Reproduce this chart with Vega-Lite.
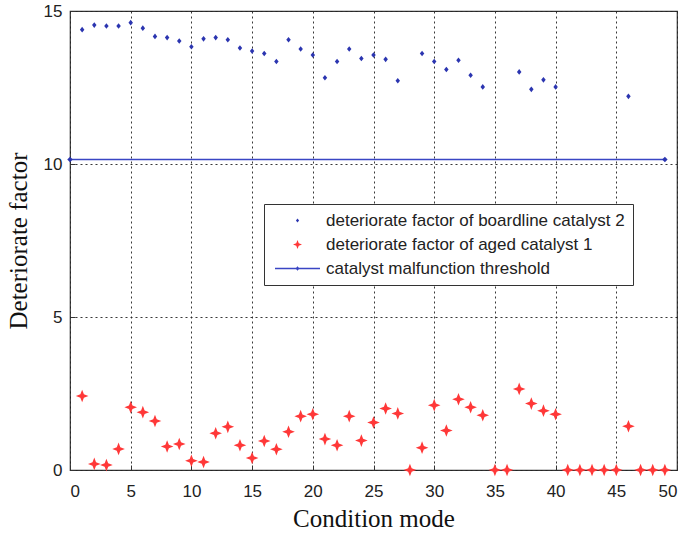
{
  "$schema": "https://vega.github.io/schema/vega-lite/v6.json",
  "width": 607,
  "height": 459,
  "autosize": "none",
  "padding": {"left": 70, "top": 11, "right": 11, "bottom": 66},
  "background": "white",
  "config": {
    "view": {"stroke": "#333", "strokeWidth": 1.2},
    "axis": {
      "domain": false,
      "gridColor": "#222",
      "gridDash": [2, 3],
      "gridWidth": 1,
      "gridOpacity": 0.9,
      "tickColor": "#333",
      "tickSize": -5,
      "labelFont": "Liberation Sans",
      "labelFontSize": 17,
      "labelColor": "#222",
      "titleFont": "Liberation Serif",
      "titleFontSize": 25,
      "titleFontWeight": "normal",
      "titleColor": "#111"
    },
    "legend": {
      "labelFont": "Liberation Sans",
      "labelFontSize": 17,
      "labelColor": "#222",
      "labelLimit": 0
    }
  },
  "datasets": {
    "pts": [
      {"mode": 1, "value": 14.39, "series": "deteriorate factor of boardline catalyst 2"},
      {"mode": 2, "value": 14.54, "series": "deteriorate factor of boardline catalyst 2"},
      {"mode": 3, "value": 14.51, "series": "deteriorate factor of boardline catalyst 2"},
      {"mode": 4, "value": 14.51, "series": "deteriorate factor of boardline catalyst 2"},
      {"mode": 5, "value": 14.62, "series": "deteriorate factor of boardline catalyst 2"},
      {"mode": 6, "value": 14.44, "series": "deteriorate factor of boardline catalyst 2"},
      {"mode": 7, "value": 14.17, "series": "deteriorate factor of boardline catalyst 2"},
      {"mode": 8, "value": 14.13, "series": "deteriorate factor of boardline catalyst 2"},
      {"mode": 9, "value": 14.02, "series": "deteriorate factor of boardline catalyst 2"},
      {"mode": 10, "value": 13.83, "series": "deteriorate factor of boardline catalyst 2"},
      {"mode": 11, "value": 14.09, "series": "deteriorate factor of boardline catalyst 2"},
      {"mode": 12, "value": 14.13, "series": "deteriorate factor of boardline catalyst 2"},
      {"mode": 13, "value": 14.06, "series": "deteriorate factor of boardline catalyst 2"},
      {"mode": 14, "value": 13.79, "series": "deteriorate factor of boardline catalyst 2"},
      {"mode": 15, "value": 13.69, "series": "deteriorate factor of boardline catalyst 2"},
      {"mode": 16, "value": 13.61, "series": "deteriorate factor of boardline catalyst 2"},
      {"mode": 17, "value": 13.35, "series": "deteriorate factor of boardline catalyst 2"},
      {"mode": 18, "value": 14.06, "series": "deteriorate factor of boardline catalyst 2"},
      {"mode": 19, "value": 13.76, "series": "deteriorate factor of boardline catalyst 2"},
      {"mode": 20, "value": 13.56, "series": "deteriorate factor of boardline catalyst 2"},
      {"mode": 21, "value": 12.82, "series": "deteriorate factor of boardline catalyst 2"},
      {"mode": 22, "value": 13.35, "series": "deteriorate factor of boardline catalyst 2"},
      {"mode": 23, "value": 13.76, "series": "deteriorate factor of boardline catalyst 2"},
      {"mode": 24, "value": 13.45, "series": "deteriorate factor of boardline catalyst 2"},
      {"mode": 25, "value": 13.56, "series": "deteriorate factor of boardline catalyst 2"},
      {"mode": 26, "value": 13.42, "series": "deteriorate factor of boardline catalyst 2"},
      {"mode": 27, "value": 12.72, "series": "deteriorate factor of boardline catalyst 2"},
      {"mode": 29, "value": 13.61, "series": "deteriorate factor of boardline catalyst 2"},
      {"mode": 30, "value": 13.35, "series": "deteriorate factor of boardline catalyst 2"},
      {"mode": 31, "value": 13.09, "series": "deteriorate factor of boardline catalyst 2"},
      {"mode": 32, "value": 13.39, "series": "deteriorate factor of boardline catalyst 2"},
      {"mode": 33, "value": 12.90, "series": "deteriorate factor of boardline catalyst 2"},
      {"mode": 34, "value": 12.52, "series": "deteriorate factor of boardline catalyst 2"},
      {"mode": 37, "value": 13.01, "series": "deteriorate factor of boardline catalyst 2"},
      {"mode": 38, "value": 12.44, "series": "deteriorate factor of boardline catalyst 2"},
      {"mode": 39, "value": 12.75, "series": "deteriorate factor of boardline catalyst 2"},
      {"mode": 40, "value": 12.52, "series": "deteriorate factor of boardline catalyst 2"},
      {"mode": 46, "value": 12.21, "series": "deteriorate factor of boardline catalyst 2"},
      {"mode": 1, "value": 2.42, "series": "deteriorate factor of aged catalyst 1"},
      {"mode": 2, "value": 0.20, "series": "deteriorate factor of aged catalyst 1"},
      {"mode": 3, "value": 0.16, "series": "deteriorate factor of aged catalyst 1"},
      {"mode": 4, "value": 0.69, "series": "deteriorate factor of aged catalyst 1"},
      {"mode": 5, "value": 2.05, "series": "deteriorate factor of aged catalyst 1"},
      {"mode": 6, "value": 1.89, "series": "deteriorate factor of aged catalyst 1"},
      {"mode": 7, "value": 1.60, "series": "deteriorate factor of aged catalyst 1"},
      {"mode": 8, "value": 0.77, "series": "deteriorate factor of aged catalyst 1"},
      {"mode": 9, "value": 0.85, "series": "deteriorate factor of aged catalyst 1"},
      {"mode": 10, "value": 0.30, "series": "deteriorate factor of aged catalyst 1"},
      {"mode": 11, "value": 0.26, "series": "deteriorate factor of aged catalyst 1"},
      {"mode": 12, "value": 1.20, "series": "deteriorate factor of aged catalyst 1"},
      {"mode": 13, "value": 1.41, "series": "deteriorate factor of aged catalyst 1"},
      {"mode": 14, "value": 0.81, "series": "deteriorate factor of aged catalyst 1"},
      {"mode": 15, "value": 0.39, "series": "deteriorate factor of aged catalyst 1"},
      {"mode": 16, "value": 0.95, "series": "deteriorate factor of aged catalyst 1"},
      {"mode": 17, "value": 0.68, "series": "deteriorate factor of aged catalyst 1"},
      {"mode": 18, "value": 1.25, "series": "deteriorate factor of aged catalyst 1"},
      {"mode": 19, "value": 1.76, "series": "deteriorate factor of aged catalyst 1"},
      {"mode": 20, "value": 1.82, "series": "deteriorate factor of aged catalyst 1"},
      {"mode": 21, "value": 1.01, "series": "deteriorate factor of aged catalyst 1"},
      {"mode": 22, "value": 0.81, "series": "deteriorate factor of aged catalyst 1"},
      {"mode": 23, "value": 1.76, "series": "deteriorate factor of aged catalyst 1"},
      {"mode": 24, "value": 0.96, "series": "deteriorate factor of aged catalyst 1"},
      {"mode": 25, "value": 1.55, "series": "deteriorate factor of aged catalyst 1"},
      {"mode": 26, "value": 2.01, "series": "deteriorate factor of aged catalyst 1"},
      {"mode": 27, "value": 1.85, "series": "deteriorate factor of aged catalyst 1"},
      {"mode": 28, "value": 0, "series": "deteriorate factor of aged catalyst 1"},
      {"mode": 29, "value": 0.73, "series": "deteriorate factor of aged catalyst 1"},
      {"mode": 30, "value": 2.12, "series": "deteriorate factor of aged catalyst 1"},
      {"mode": 31, "value": 1.29, "series": "deteriorate factor of aged catalyst 1"},
      {"mode": 32, "value": 2.31, "series": "deteriorate factor of aged catalyst 1"},
      {"mode": 33, "value": 2.05, "series": "deteriorate factor of aged catalyst 1"},
      {"mode": 34, "value": 1.79, "series": "deteriorate factor of aged catalyst 1"},
      {"mode": 35, "value": 0, "series": "deteriorate factor of aged catalyst 1"},
      {"mode": 36, "value": 0, "series": "deteriorate factor of aged catalyst 1"},
      {"mode": 37, "value": 2.65, "series": "deteriorate factor of aged catalyst 1"},
      {"mode": 38, "value": 2.17, "series": "deteriorate factor of aged catalyst 1"},
      {"mode": 39, "value": 1.94, "series": "deteriorate factor of aged catalyst 1"},
      {"mode": 40, "value": 1.82, "series": "deteriorate factor of aged catalyst 1"},
      {"mode": 41, "value": 0, "series": "deteriorate factor of aged catalyst 1"},
      {"mode": 42, "value": 0, "series": "deteriorate factor of aged catalyst 1"},
      {"mode": 43, "value": 0, "series": "deteriorate factor of aged catalyst 1"},
      {"mode": 44, "value": 0, "series": "deteriorate factor of aged catalyst 1"},
      {"mode": 45, "value": 0, "series": "deteriorate factor of aged catalyst 1"},
      {"mode": 46, "value": 1.43, "series": "deteriorate factor of aged catalyst 1"},
      {"mode": 47, "value": 0, "series": "deteriorate factor of aged catalyst 1"},
      {"mode": 48, "value": 0, "series": "deteriorate factor of aged catalyst 1"},
      {"mode": 49, "value": 0, "series": "deteriorate factor of aged catalyst 1"}
    ],
    "threshold": [
      {"mode": 0, "value": 10.15},
      {"mode": 49, "value": 10.15}
    ]
  },
  "layer": [
    {
      "data": {"name": "threshold"},
      "mark": {"type": "line", "color": "#3a46c4", "strokeWidth": 1.5, "clip": false},
      "encoding": {
        "x": {"field": "mode", "type": "quantitative"},
        "y": {"field": "value", "type": "quantitative"}
      }
    },
    {
      "data": {"name": "threshold"},
      "mark": {"type": "point", "filled": true, "shape": "diamond", "size": 30, "color": "#2b35b0", "opacity": 1, "clip": false},
      "encoding": {
        "x": {"field": "mode", "type": "quantitative"},
        "y": {"field": "value", "type": "quantitative"}
      }
    },
    {
      "data": {"name": "pts"},
      "mark": {"type": "point", "filled": true, "size": 196, "opacity": 1, "clip": false},
      "encoding": {
        "x": {
          "field": "mode", "type": "quantitative",
          "scale": {"domain": [0, 50], "nice": false, "zero": false},
          "axis": {"values": [0, 5, 10, 15, 20, 25, 30, 35, 40, 45, 50], "title": "Condition mode", "labelPadding": 18, "titlePadding": 7}
        },
        "y": {
          "field": "value", "type": "quantitative",
          "scale": {"domain": [0, 15], "nice": false},
          "axis": {"values": [0, 5, 10, 15], "title": "Deteriorate factor", "labelPadding": 13, "titlePadding": 12}
        },
        "color": {
          "field": "series", "type": "nominal",
          "scale": {
            "domain": ["deteriorate factor of boardline catalyst 2", "deteriorate factor of aged catalyst 1", "catalyst malfunction threshold"],
            "range": ["#2b35b0", "#ff3838", "#3a46c4"]
          },
          "legend": {
            "orient": "none", "legendX": 194, "legendY": 193,
            "title": null,
            "symbolSize": 100,
            "symbolOffset": 17,
            "labelOffset": 20,
            "padding": 8,
            "rowPadding": 6,
            "strokeColor": "#333",
            "fillColor": "white",
            "symbolStrokeWidth": 0
          }
        },
        "shape": {
          "field": "series", "type": "nominal",
          "scale": {
            "domain": ["deteriorate factor of boardline catalyst 2", "deteriorate factor of aged catalyst 1", "catalyst malfunction threshold"],
            "range": [
              "M0,-0.4L0.32,0L0,0.4L-0.32,0Z",
              "M0,-0.9L0.25,-0.25L0.9,0L0.25,0.25L0,0.9L-0.25,0.25L-0.9,0L-0.25,-0.25Z",
              "M-4.5,-0.13L4.5,-0.13L4.5,0.13L-4.5,0.13Z M0,-0.45L0.4,0L0,0.45L-0.4,0Z"
            ]
          }
        }
      }
    }
  ]
}
